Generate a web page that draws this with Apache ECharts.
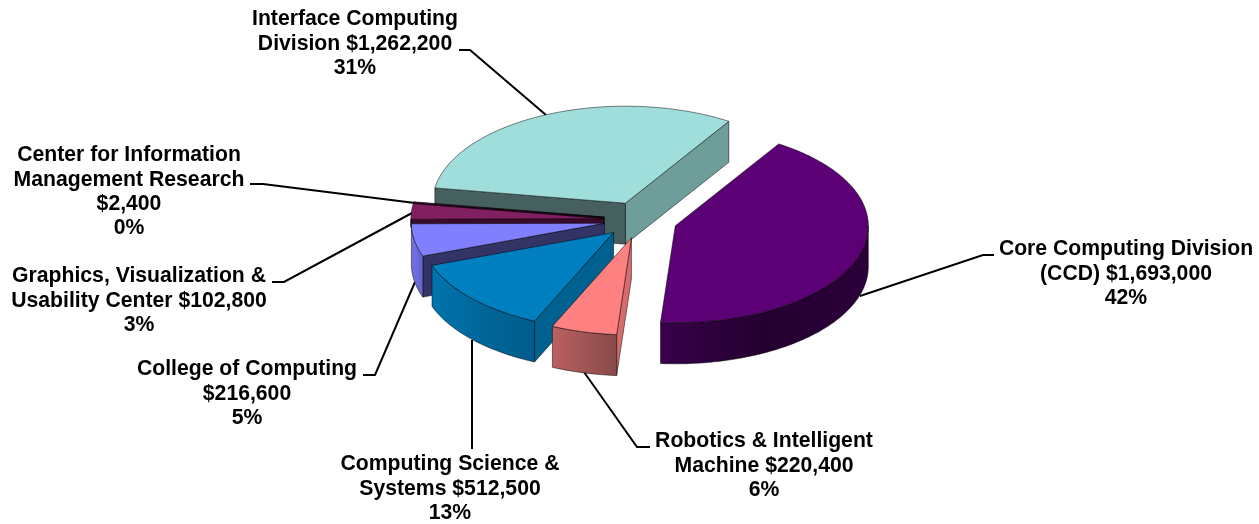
<!DOCTYPE html>
<html>
<head>
<meta charset="utf-8">
<style>html,body{margin:0;padding:0;background:#fff}#main{width:1259px;height:524px}</style>
<script src="https://cdn.jsdelivr.net/npm/echarts@6/dist/echarts.min.js"></script>
</head>
<body>
<div id="main"></div>
<script>
// Data, clockwise from the first slice
const categories = [
  'Core Computing Division\n(CCD)',
  'Robotics & Intelligent\nMachine',
  'Computing Science &\nSystems',
  'College of Computing\n',
  'Graphics, Visualization &\nUsability Center',
  'Center for Information\nManagement Research\n',
  'Interface Computing\nDivision'
];
const amounts = [1693000, 220400, 512500, 216600, 102800, 2400, 1262200];
const amountLabels = ['$1,693,000', '$220,400', '$512,500', '$216,600', '$102,800', '$2,400', '$1,262,200'];
const percentLabels = ['42%', '6%', '13%', '5%', '3%', '0%', '31%'];

// Slice colours
const topColors = ['#5c0076', '#ff8080', '#0080c0', '#8080ff', '#802060', '#a05a8a', '#a0dedc'];
const wallColors = [
  ['#38004a', '#240030', '#2c003a'],
  ['#bb6060', '#a05555', '#884848'],
  ['#0074ae', '#00669a', '#005c8c'],
  ['#7272e6', '#6c6cdc', '#6060c8'],
  ['#5a1644', '#5a1644', '#5a1644'],
  ['#5a1644', '#5a1644', '#5a1644'],
  ['#6f9d9a', '#6f9d9a', '#6f9d9a']
];
const startFaceColors = ['#2a0036', '#d86c6c', '#00608f', '#333366', '#3a0c2a', '#2a0820', '#45605e'];
const endFaceColors = ['#2a0036', '#8a4848', '#004d73', '#333366', '#3a0c2a', '#2a0820', '#6f9d9a'];
const paintOrder = [6, 5, 4, 3, 2, 1, 0].reduce((m, idx, rank) => { m[idx] = rank; return m; }, {});

// Pie projection
const PIE = { cx: 640.5, cy: 220, rx: 193, ry: 97, depth: 41, explode: 0.19, startDeg: 57.6 };
// The two thinnest slices sit behind their neighbours, so only a sliver of their cut face shows
const faceDepths = [41, 41, 41, 41, 8, 8, 41];
const total = amounts.reduce((a, b) => a + b, 0);
const startAngles = [];
amounts.reduce((acc, v) => { startAngles.push(acc); return acc - v / total * 360; }, PIE.startDeg);

// Label layout
const labelCenters = [[1126, 274], [764, 466], [450, 489], [247, 394], [139, 301], [129, 192], [355, 44]];
const leaderPaths = [
  [[994, 255], [983, 255], [860, 296]],
  [[650, 447], [637, 447], [584, 372]],
  [[472, 449], [472, 340]],
  [[363, 375], [375, 375], [415, 282]],
  [[272, 282], [284, 282], [412, 213]],
  [[250, 184], [263, 184], [415, 203]],
  [[459, 50], [470, 50], [546, 115]]
];

function labelText(i) {
  const name = categories[i];
  if (name.endsWith('\n')) return name + amountLabels[i] + '\n' + percentLabels[i];
  return name + ' ' + amountLabels[i] + '\n' + percentLabels[i];
}

function rimPoint(tip, deg, dy) {
  const a = deg * Math.PI / 180;
  return [tip[0] + PIE.rx * Math.cos(a), tip[1] - PIE.ry * Math.sin(a) + (dy || 0)];
}
function arcPoints(tip, from, to, dy) {
  const n = Math.max(1, Math.ceil(Math.abs(from - to)));
  const pts = [];
  for (let k = 0; k <= n; k++) pts.push(rimPoint(tip, from + (to - from) * k / n, dy));
  return pts;
}
const EDGE = { stroke: 'rgba(0,0,0,0.62)', lineWidth: 0.8 };

function renderSlice(params, api) {
  const i = params.dataIndex;
  const sweep = api.value(0) / total * 360;
  const s = startAngles[i], e = s - sweep;
  const mid = (s + e) / 2 * Math.PI / 180;
  const tip = [
    PIE.cx + PIE.explode * PIE.rx * Math.cos(mid),
    PIE.cy - PIE.explode * PIE.ry * Math.sin(mid)
  ];
  const d = PIE.depth;
  const fd = faceDepths[i];
  const rank = paintOrder[i] * 10;
  const children = [];
  const poly = (points, fill, z) => children.push({
    type: 'polygon', z2: rank + z, shape: { points },
    style: Object.assign({ fill }, EDGE)
  });
  const rad = x => x * Math.PI / 180;
  if (Math.cos(rad(e)) > 0) {
    const p = rimPoint(tip, e);
    poly([tip, p, [p[0], p[1] + fd], [tip[0], tip[1] + fd]], endFaceColors[i], 1);
  }
  if (Math.cos(rad(s)) < 0) {
    const p = rimPoint(tip, s);
    poly([tip, p, [p[0], p[1] + fd], [tip[0], tip[1] + fd]], startFaceColors[i], 1);
  }
  // Outer wall: only the part of the rim on the front half of the ellipse
  const hi = Math.min(s, 0);
  const lo = Math.max(e, -180);
  if (hi > lo) {
    const upper = arcPoints(tip, hi, lo, 0);
    const lower = arcPoints(tip, lo, hi, Math.min(d, fd));
    const c = wallColors[i];
    poly(upper.concat(lower), new echarts.graphic.LinearGradient(0, 0, 1, 0, [
      { offset: 0, color: c[0] }, { offset: 0.5, color: c[1] }, { offset: 1, color: c[2] }
    ]), 2);
  }
  poly([tip].concat(arcPoints(tip, s, e, 0)), topColors[i], 3);
  return { type: 'group', children };
}

function renderLeader(params) {
  return {
    type: 'polyline',
    shape: { points: leaderPaths[params.dataIndex] },
    style: { fill: null, stroke: '#000', lineWidth: 2 }
  };
}
function renderLabel(params) {
  const c = labelCenters[params.dataIndex];
  return {
    type: 'text', x: c[0], y: c[1],
    style: {
      text: labelText(params.dataIndex),
      fill: '#000', align: 'center', verticalAlign: 'middle',
      font: 'bold 21.2px "Liberation Sans", Arial, sans-serif', lineHeight: 24.4
    }
  };
}

const chart = echarts.init(document.getElementById('main'), null, { renderer: 'canvas' });
chart.setOption({
  animation: false,
  backgroundColor: '#fff',
  series: [
    { type: 'custom', name: 'leaders', coordinateSystem: 'none', silent: true, z: 1, renderItem: renderLeader, data: amounts.map(v => [v]) },
    { type: 'custom', name: 'slices', coordinateSystem: 'none', silent: true, z: 2, renderItem: renderSlice, data: amounts.map(v => [v]) },
    { type: 'custom', name: 'labels', coordinateSystem: 'none', silent: true, z: 3, renderItem: renderLabel, data: amounts.map(v => [v]) }
  ]
});
</script>
</body>
</html>
